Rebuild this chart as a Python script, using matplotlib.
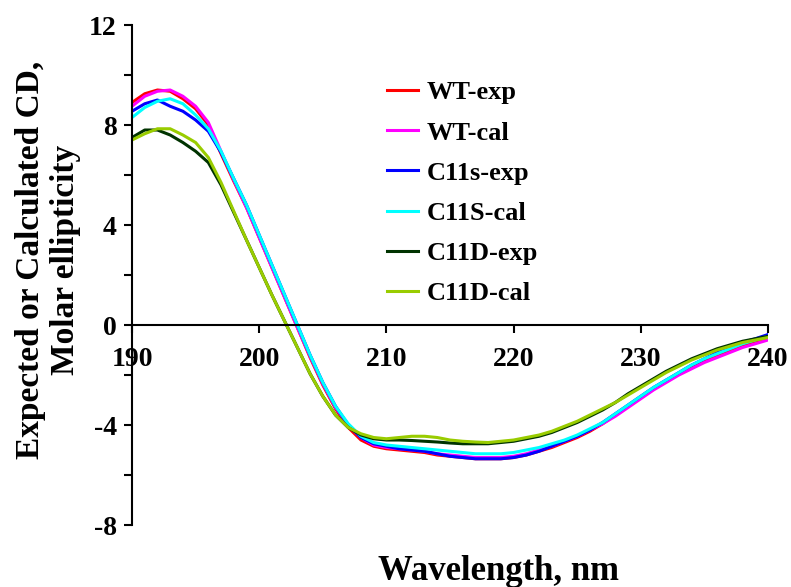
import numpy as np
import matplotlib.pyplot as plt

# wavelength, nm
wl = list(range(190, 241))

wt_exp = [8.9, 9.25, 9.4, 9.35, 9.05, 8.65, 8.0, 6.85, 5.75, 4.7, 3.5, 2.3, 1.1, -0.1, -1.3,
          -2.4, -3.35, -4.1, -4.6, -4.85, -4.95, -5.0, -5.05, -5.1, -5.2, -5.25, -5.3, -5.35,
          -5.35, -5.35, -5.3, -5.2, -5.05, -4.9, -4.7, -4.5, -4.25, -3.95, -3.6, -3.25, -2.9,
          -2.55, -2.25, -1.95, -1.7, -1.45, -1.25, -1.05, -0.85, -0.7, -0.55]
wt_cal = [8.75, 9.15, 9.35, 9.4, 9.15, 8.75, 8.1, 6.95, 5.8, 4.7, 3.5, 2.3, 1.1, -0.1, -1.25,
          -2.35, -3.3, -4.0, -4.5, -4.8, -4.9, -4.95, -5.0, -5.05, -5.15, -5.2, -5.25, -5.3,
          -5.3, -5.3, -5.25, -5.15, -5.0, -4.85, -4.65, -4.45, -4.2, -3.95, -3.65, -3.3, -2.95,
          -2.6, -2.3, -2.0, -1.75, -1.5, -1.3, -1.1, -0.9, -0.75, -0.6]
c11s_exp = [8.55, 8.85, 9.0, 8.75, 8.55, 8.2, 7.75, 6.9, 5.85, 4.8, 3.6, 2.4, 1.2, 0.0, -1.2,
            -2.3, -3.25, -4.0, -4.5, -4.75, -4.85, -4.95, -5.0, -5.05, -5.15, -5.25, -5.3, -5.35,
            -5.35, -5.35, -5.3, -5.2, -5.05, -4.85, -4.65, -4.45, -4.2, -3.9, -3.55, -3.2, -2.85,
            -2.5, -2.2, -1.9, -1.6, -1.35, -1.1, -0.9, -0.7, -0.55, -0.38]
c11s_cal = [8.3, 8.7, 8.95, 9.05, 8.85, 8.4, 7.85, 6.95, 5.85, 4.8, 3.6, 2.4, 1.2, 0.0, -1.2,
            -2.3, -3.25, -3.95, -4.45, -4.7, -4.8, -4.85, -4.9, -4.95, -5.0, -5.05, -5.1, -5.15,
            -5.15, -5.15, -5.1, -5.0, -4.9, -4.75, -4.6, -4.4, -4.15, -3.9, -3.55, -3.2, -2.85,
            -2.5, -2.2, -1.9, -1.6, -1.35, -1.15, -0.95, -0.75, -0.6, -0.45]
c11d_exp = [7.5, 7.8, 7.8, 7.6, 7.3, 6.95, 6.5, 5.6, 4.5, 3.4, 2.3, 1.2, 0.15, -0.9, -1.95,
            -2.85, -3.6, -4.1, -4.4, -4.55, -4.6, -4.6, -4.62, -4.65, -4.68, -4.72, -4.75, -4.75,
            -4.75, -4.7, -4.65, -4.55, -4.45, -4.3, -4.1, -3.9, -3.65, -3.4, -3.1, -2.75, -2.45,
            -2.15, -1.85, -1.6, -1.35, -1.15, -0.95, -0.8, -0.65, -0.55, -0.45]
c11d_cal = [7.4, 7.65, 7.85, 7.85, 7.6, 7.3, 6.7, 5.7, 4.55, 3.4, 2.3, 1.2, 0.15, -0.9, -1.95,
            -2.85, -3.6, -4.1, -4.35, -4.5, -4.55, -4.5, -4.45, -4.45, -4.5, -4.6, -4.65, -4.68,
            -4.7, -4.65, -4.6, -4.5, -4.4, -4.25, -4.05, -3.85, -3.6, -3.35, -3.1, -2.8, -2.5,
            -2.2, -1.9, -1.65, -1.4, -1.2, -1.0, -0.85, -0.7, -0.6, -0.5]

labels = ["WT-exp", "WT-cal", "C11s-exp", "C11S-cal", "C11D-exp", "C11D-cal"]
series = [wt_exp, wt_cal, c11s_exp, c11s_cal, c11d_exp, c11d_cal]
colors = ["#ff0000", "#ff00ff", "#0000ff", "#00ffff", "#003300", "#99cc00"]

plt.rcParams['font.family'] = 'Liberation Serif'
plt.rcParams['font.weight'] = 'bold'
plt.rcParams['axes.unicode_minus'] = False

fig = plt.figure(figsize=(7.91, 5.87), dpi=100)
ax = fig.add_axes([0.1669, 0.1056, 0.804, 0.8518])

for y, lab, c in zip(series, labels, colors):
    ax.plot(wl, y, color=c, lw=2.2, label=lab)

ax.set_xlim(190, 240)
ax.set_ylim(-8, 12)
ax.set_xticks([190, 200, 210, 220, 230, 240])
ax.set_yticks([-8, -4, 0, 4, 8, 12])
ax.set_yticks([-6, -2, 2, 6, 10], minor=True)
ax.spines['top'].set_visible(False)
ax.spines['right'].set_visible(False)
ax.spines['bottom'].set_position(('data', 0))
ax.spines['left'].set_linewidth(1.5)
ax.spines['bottom'].set_linewidth(1.5)
ax.tick_params(axis='both', labelsize=20, width=1.5, length=6)
ax.tick_params(axis='x', pad=10)
ax.tick_params(axis='y', pad=5)
ax.tick_params(axis='y', which='minor', width=1.5, length=6)
for t in ax.get_xticklabels() + ax.get_yticklabels():
    t.set_fontweight('bold')

fig.text(0.061, 0.557, "Expected or Calculated CD,\nMolar ellipticity", fontsize=24,
         fontweight='bold', rotation=90, ha='center', va='center', linespacing=1.15,
         multialignment='center')
fig.text(0.63, 0.012, "Wavelength, nm", fontsize=25, fontweight='bold', ha='center',
         va='baseline')

leg = ax.legend(loc='upper left', bbox_to_anchor=(0.489, 0.862), bbox_transform=fig.transFigure,
                frameon=False, prop={'size': 19, 'weight': 'bold'}, handlelength=1.2,
                labelspacing=0.63, handletextpad=0.3, borderpad=0, borderaxespad=0)

fig.savefig("out.png", dpi=100)
